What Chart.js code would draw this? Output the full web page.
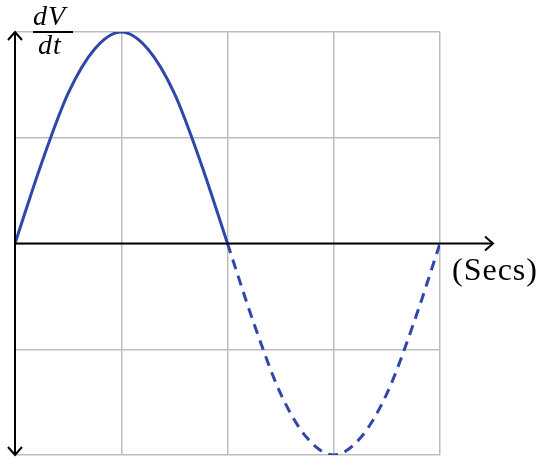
<!DOCTYPE html>
<html><head><meta charset="utf-8">
<script src="https://cdn.jsdelivr.net/npm/chart.js@4.4.1/dist/chart.umd.min.js"></script>
<style>
html,body{margin:0;padding:0;background:#fff;}
#wrap{position:relative;width:550px;height:469px;}
.lbl{position:absolute;font-family:"Liberation Serif","DejaVu Serif",serif;color:#000;white-space:nowrap;line-height:1;}
</style></head><body>
<div id="wrap">
<canvas id="c" width="550" height="469"></canvas>
<div class="lbl" style="left:33px;top:2px;font-size:28px;font-style:italic;letter-spacing:1px;">dV</div>
<div class="lbl" style="left:38px;top:31px;font-size:28px;font-style:italic;letter-spacing:1px;">dt</div>
<div class="lbl" style="left:452px;top:253px;font-size:32px;letter-spacing:1px;">(Secs)</div>
</div>
<script>
// time in grid units (quarter periods)
const xPositive = [0,0.25,0.5,0.75,1,1.25,1.5,1.75,2];
const yPositive = [0,0.38,0.71,0.92,1,0.92,0.71,0.38,0];
const xNegative = [2,2.25,2.5,2.75,3,3.25,3.5,3.75,4];
const yNegative = [0,-0.38,-0.71,-0.92,-1,-0.92,-0.71,-0.38,0];
const xTicks = [0,1,2,3,4];
const yTicks = [-1,-0.5,0,0.5,1];

const toPts = (xs, ys) => xs.map((x,i)=>({x, y: ys[i]}));
const blue = '#2e47a9';

const axesPlugin = {
  id:'axes',
  afterDatasetsDraw(chart){
    const {ctx, scales:{x,y}} = chart;
    const x0 = x.getPixelForValue(0), y0 = y.getPixelForValue(0);
    const yt = y.getPixelForValue(1), yb = y.getPixelForValue(-1);
    ctx.save();
    ctx.strokeStyle='#000'; ctx.lineWidth=2;
    ctx.beginPath(); ctx.moveTo(x0, yt); ctx.lineTo(x0, yb); ctx.stroke();
    ctx.beginPath(); ctx.moveTo(x0-7, yt+8); ctx.lineTo(x0, yt); ctx.lineTo(x0+7, yt+8); ctx.stroke();
    ctx.beginPath(); ctx.moveTo(x0-7, yb-8); ctx.lineTo(x0, yb); ctx.lineTo(x0+7, yb-8); ctx.stroke();
    const xe = 493;
    ctx.beginPath(); ctx.moveTo(x0, y0); ctx.lineTo(xe, y0); ctx.stroke();
    ctx.beginPath(); ctx.moveTo(xe-8, y0-7); ctx.lineTo(xe, y0); ctx.lineTo(xe-8, y0+7); ctx.stroke();
    ctx.lineWidth=2;
    ctx.beginPath(); ctx.moveTo(33, 32); ctx.lineTo(73, 32); ctx.stroke();
    ctx.restore();
  }
};

new Chart(document.getElementById('c'), {
  type:'line',
  data:{datasets:[
    {data: toPts(xPositive, yPositive), borderColor: blue, borderWidth:3, pointRadius:0, cubicInterpolationMode:'monotone', fill:false},
    {data: toPts(xNegative, yNegative), borderColor: blue, borderWidth:3, borderDash:[10,7], pointRadius:0, cubicInterpolationMode:'monotone', fill:false}
  ]},
  options:{
    responsive:false, animation:false,
    layout:{padding:{left:15, top:32, right:110, bottom:14}},
    plugins:{legend:{display:false}, tooltip:{enabled:false}},
    scales:{
      x:{type:'linear', min:0, max:4, afterBuildTicks:s=>{s.ticks=xTicks.map(v=>({value:v}));},
         ticks:{display:false}, border:{display:false},
         grid:{color:'#bdbdbd', lineWidth:1.5, drawTicks:false}},
      y:{type:'linear', min:-1, max:1, afterBuildTicks:s=>{s.ticks=yTicks.map(v=>({value:v}));},
         ticks:{display:false}, border:{display:false},
         grid:{color:'#bdbdbd', lineWidth:1.5, drawTicks:false}}
    }
  },
  plugins:[axesPlugin]
});
</script>
</body></html>
